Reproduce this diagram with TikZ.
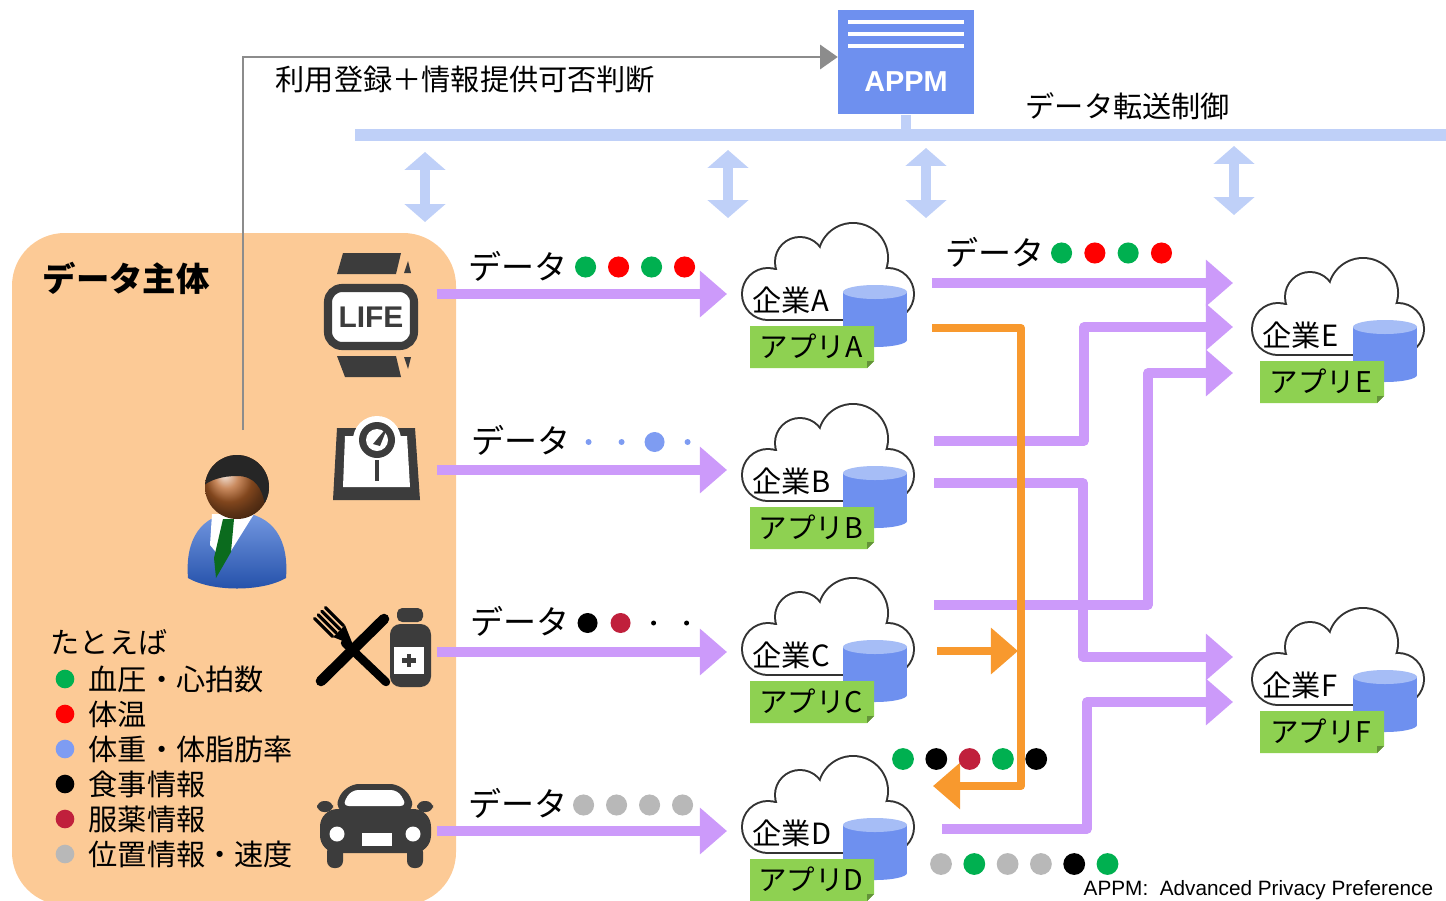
\documentclass[tikz,border=0pt]{standalone}
\usepackage{fontspec}
\setmainfont{Noto Sans CJK JP}
\newfontfamily\latinsans{Liberation Sans}
\usetikzlibrary{positioning, arrows.meta, calc}

\definecolor{peach}{HTML}{FCCA96}
\definecolor{flowviolet}{HTML}{CC9AFA}
\definecolor{flowamber}{HTML}{F8992E}
\definecolor{barblue}{HTML}{BFD0F8}
\definecolor{appmblue}{HTML}{6E90EF}
\definecolor{dbtop}{HTML}{A6BDF6}
\definecolor{appgreen}{HTML}{8ED151}
\definecolor{icongray}{HTML}{3C3C3C}
\definecolor{ptgreen}{HTML}{00B050}
\definecolor{ptred}{HTML}{FF0000}
\definecolor{ptblue}{HTML}{7E9CF2}
\definecolor{ptcrimson}{HTML}{C0203C}
\definecolor{ptgray}{HTML}{B8B8B8}
\definecolor{skin}{HTML}{B8642A}
\definecolor{suit}{HTML}{2A62D2}
\definecolor{tiegreen}{HTML}{0B6B1E}

\tikzset{
  note/.style={font=\fontsize{8.3}{10}\selectfont, inner sep=0pt, anchor=west},
  datanote/.style={font=\fontsize{9.4}{11}\selectfont, inner sep=0pt, anchor=west},
  dot/.style={circle, inner sep=0pt, minimum size=5.8pt},
  flow/.style={flowviolet, line width=2.6pt, line join=round, -{Triangle[width=12.8pt,length=7.7pt]}},
  relay/.style={flowamber, line width=2.3pt, line join=round, -{Triangle[width=12.8pt,length=7.7pt]}},
  sync/.style={barblue, line width=2.85pt, {Triangle[width=11.4pt,length=5.1pt]}-{Triangle[width=11.4pt,length=5.1pt]}},
  reg/.style={black!45, line width=0.85pt, -{Triangle[width=6.8pt,length=5pt]}},
  % company cloud with its database and app tag
  pics/svc/.style={code={
    \foreach \cx/\cy/\rad in {-59/4/27, -27/-28/26, 26/-32/36, 61/4/27}
      \fill[black!80] (\cx,\cy) circle[radius=\rad];
    \fill[black!80] (-59,-20) rectangle (61,31);
    \foreach \cx/\cy/\rad in {-59/4/27, -27/-28/26, 26/-32/36, 61/4/27}
      \fill[white] (\cx,\cy) circle[radius=\rad-2];
    \fill[white] (-59,-20) rectangle (61,29);
    \node[note] (-corp) at (-75,10) {企業#1};
    \fill[appmblue] (16,2) rectangle (80,50);
    \fill[appmblue] (48,50) ellipse[x radius=32, y radius=7];
    \fill[dbtop] (48,2) ellipse[x radius=32, y radius=7];
    \fill[appgreen] (-77,36) -- (47,36) -- (47,71) -- (40,78) -- (-77,78) -- cycle;
    \fill[appgreen!70!black] (47,71) -- (40,78) -- (40,71) -- cycle;
    \node[inner sep=0pt, font=\fontsize{8.1}{10}\selectfont] (-app) at (-16,56) {アプリ#1};
  }},
}

\begin{document}
\begin{tikzpicture}[x=0.01cm, y=-0.01cm]
\useasboundingbox (0,0) rectangle (1446,900);
\clip (0,0) rectangle (1446,900);

% data subject area
\fill[peach, rounded corners=15pt] (12,233) rectangle (456,905);
\node[font=\bfseries\fontsize{9.5}{11}\selectfont, anchor=west, inner sep=0pt] (subject) at (42,278) {データ主体};

% APPM and the control bus
\node[fill=appmblue, minimum width=38.4pt, minimum height=29.6pt, inner sep=0pt] (appm) at (906,62) {};
\foreach \ly in {22,34,46}
  \draw[white, line width=1.4pt] (848,\ly) -- (964,\ly);
\node[text=white, inner sep=0pt, font=\latinsans\bfseries\fontsize{8.2}{10}\selectfont] (appmname) at (906,82) {APPM};
\coordinate (bus-l) at (355,135);
\coordinate (bus-r) at (1446,135);
\draw[barblue, line width=3.4pt] (bus-l) -- (bus-r);
\draw[barblue, line width=2.85pt] (appm.south) -- (appm.south |- bus-l);
\node[note] (ctrl) at (1025,106) {データ転送制御};
\foreach \sx/\st/\sb in {425/152/222, 728/150/218, 926/148/218, 1234/146/215}
  \draw[sync] (\sx,\st) -- (\sx,\sb);

% registration path from the user
\coordinate (user) at (243,430);
\draw[reg] (user) |- ($(appm.west)+(0,-5)$);
\node[note] (regnote) at (275,80) {利用登録＋情報提供可否判断};

% user
\shade[top color=suit!65!white, bottom color=suit!80!black]
  (188,578) .. controls (185,540) and (200,514) .. (237,512)
  .. controls (274,514) and (289,540) .. (286,578)
  .. controls (262,592) and (212,592) .. (188,578) -- cycle;
\fill[white] (212,514) -- (254,514) -- (224,562) -- (210,545) -- cycle;
\fill[tiegreen] (223,519) -- (234,519) -- (231,552) -- (216,578) -- (214,558) -- cycle;
\shade[ball color=skin] (237,487) circle[radius=32];
\begin{scope}
  \clip (237,487) circle[radius=32];
  \fill[black!85] (200,450) -- (275,450) -- (275,505) -- (265,505)
    .. controls (262,488) and (255,476) .. (237,476)
    .. controls (222,476) and (210,480) .. (203,486) -- cycle;
\end{scope}

% watch
\fill[icongray] (343,253) -- (401,253) -- (396,274) -- (337,274) -- cycle;
\fill[icongray] (404,273) -- (411,273) -- (408,261) -- cycle;
\fill[icongray] (337,356) -- (396,356) -- (401,377) -- (345,377) -- cycle;
\fill[icongray] (404,357) -- (411,357) -- (408,369) -- cycle;
\draw[icongray, line width=2.3pt, fill=white, rounded corners=4pt] (328,288) rectangle (414,346);
\node[text=icongray, inner sep=0pt, font=\latinsans\bfseries\fontsize{8.5}{10}\selectfont] (watch) at (371,317) {LIFE};

% scale
\fill[icongray] (337,428) -- (415,428) -- (420,500) -- (333,500) -- cycle;
\fill[white] (345,436) -- (407,436) -- (410,487) -- (343,487) -- cycle;
\fill[white] (377,440) circle[radius=24];
\fill[icongray] (377,440) circle[radius=18];
\fill[white] (377,440) circle[radius=11];
\fill[icongray] (373,444) -- (388,426) -- (380,446) -- cycle;
\draw[icongray, line width=1.2pt] (377,460) -- (377,481);
\coordinate (scale) at (377,460);

% meal and medicine
\draw[black, line width=3pt, line cap=round] (321,681) -- (384,619);
\draw[black, line width=2.4pt, line cap=round] (345,643) -- (386,682);
\fill[black] (333,637) -- (345,625) -- (353,645) -- cycle;
\foreach \t in {-1.5,-0.5,0.5,1.5}
  \draw[black, line width=0.9pt, line cap=round] ($(338,631)+(3.6*\t,-3.6*\t)$) -- ++(-18,-18);
\fill[icongray, rounded corners=1.5pt] (397,608) rectangle (423,622);
\fill[icongray, rounded corners=3pt] (390,624) rectangle (431,687);
\fill[white] (394,647) rectangle (424,674);
\draw[icongray, line width=1.3pt] (402,660.5) -- (416,660.5) (409,654) -- (409,667);
\coordinate (meal) at (375,650);

% car
\fill[icongray, rounded corners=4pt] (333,812) -- (345,784) -- (404,784) -- (417,812) -- cycle;
\fill[white, rounded corners=2pt] (342,806) -- (351,790) -- (398,790) -- (407,806) -- cycle;
\fill[icongray, rounded corners=5pt] (320,809) rectangle (431,853);
\fill[icongray, rounded corners=2pt] (317,801) rectangle (333,812);
\fill[icongray, rounded corners=2pt] (417,801) rectangle (433,812);
\fill[icongray, rounded corners=2pt] (327,845) rectangle (343,868);
\fill[icongray, rounded corners=2pt] (407,845) rectangle (423,868);
\fill[white] (337,834) circle[radius=7.5];
\fill[white] (413,834) circle[radius=7.5];
\fill[white] (362,833) rectangle (392,846);
\coordinate (car) at (375,825);

% legend
\node[note] (eg) at (50,642) {たとえば};
\foreach \c/\t [count=\i from 0] in {ptgreen/血圧・心拍数, ptred/体温, ptblue/体重・体脂肪率,
    black/食事情報, ptcrimson/服薬情報, ptgray/位置情報・速度} {
  \node[dot, fill=\c, minimum size=5.3pt] (key\i) at (65,679+35*\i) {};
  \node[note] (item\i) at (88,679+35*\i) {\t};
}

% companies
\pic (ca) at (827,290) {svc=A};
\pic (cb) at (827,471) {svc=B};
\pic (cc) at (827,645) {svc=C};
\pic (cd) at (827,823) {svc=D};
\pic (ce) at (1337,325) {svc=E};
\pic (cf) at (1337,675) {svc=F};

% data from the subject's devices
\coordinate (w-out) at (437,294);  \coordinate (ca-in) at (727,294);
\coordinate (s-out) at (437,470);  \coordinate (cb-in) at (727,470);
\coordinate (m-out) at (437,652);  \coordinate (cc-in) at (727,652);
\coordinate (c-out) at (437,831);  \coordinate (cd-in) at (727,831);
\draw[flow] (w-out) -- (ca-in);
\draw[flow] (s-out) -- (cb-in);
\draw[flow] (m-out) -- (cc-in);
\draw[flow] (c-out) -- (cd-in);

\node[datanote] (d1) at (468,266) {データ};
\foreach \c [count=\i from 0] in {ptgreen,ptred,ptgreen,ptred}
  \node[dot, fill=\c, minimum size=6pt] (d1-\i) at ($(d1.east)+(17+33*\i,1)$) {};
\node[datanote] (d2) at (471,440) {データ};
\foreach \s [count=\i from 0] in {6,6,20,6}
  \node[dot, fill=ptblue, minimum size=\s*0.2845pt] (d2-\i) at ($(d2.east)+(17+33*\i,2)$) {};
\node[datanote] (d3) at (470,621) {データ};
\foreach \c/\s [count=\i from 0] in {black/20, ptcrimson/20, black/5, black/5}
  \node[dot, fill=\c, minimum size=\s*0.2845pt] (d3-\i) at ($(d3.east)+(17+33*\i,2)$) {};
\node[datanote] (d4) at (468,803) {データ};
\foreach \i in {0,...,3}
  \node[dot, fill=ptgray, minimum size=6pt] (d4-\i) at ($(d4.east)+(15+33*\i,2)$) {};

% transfers between companies
\coordinate (ca-out) at (932,283);   \coordinate (ce-in1) at (1233,283);
\coordinate (cb-out1) at (934,441);  \coordinate (ce-in2) at (1233,327);
\coordinate (cc-out1) at (934,605);  \coordinate (ce-in3) at (1233,373);
\coordinate (cb-out2) at (934,483);  \coordinate (cf-in1) at (1233,657);
\coordinate (cd-out) at (942,829);   \coordinate (cf-in2) at (1233,702);
\draw[flow] (ca-out) -- (ce-in1);
\draw[flow] (cb-out1) -- ++(150,0) |- (ce-in2);
\draw[flow] (cc-out1) -- ++(214,0) |- (ce-in3);
\draw[flow] (cb-out2) -- ++(149,0) |- (cf-in1);
\draw[flow] (cd-out) -- ++(145,0) |- (cf-in2);

\coordinate (ca-out2) at (932,328);  \coordinate (cd-back) at (933,786);
\coordinate (cc-out2) at (937,651);  \coordinate (merge) at (1018,651);
\draw[relay] (ca-out2) -- ++(89,0) |- (cd-back);
\draw[relay] (cc-out2) -- (merge);

\node[datanote] (d5) at (945,252) {データ};
\foreach \c [count=\i from 0] in {ptgreen,ptred,ptgreen,ptred}
  \node[dot, fill=\c, minimum size=6pt] (d5-\i) at ($(d5.east)+(16+33.3*\i,1)$) {};
\foreach \c [count=\i from 0] in {ptgreen,black,ptcrimson,ptgreen,black}
  \node[dot, fill=\c, minimum size=6.2pt] (d6-\i) at (903+33.3*\i,759) {};
\foreach \c [count=\i from 0] in {ptgray,ptgreen,ptgray,ptgray,black,ptgreen}
  \node[dot, fill=\c, minimum size=6.2pt] (d7-\i) at (941+33.3*\i,864) {};

\node[anchor=base west, inner sep=0pt, font=\latinsans\fontsize{5.9}{7}\selectfont] (gloss) at (1083,895)
  {APPM:\ \ Advanced Privacy Preference};
\end{tikzpicture}
\end{document}
